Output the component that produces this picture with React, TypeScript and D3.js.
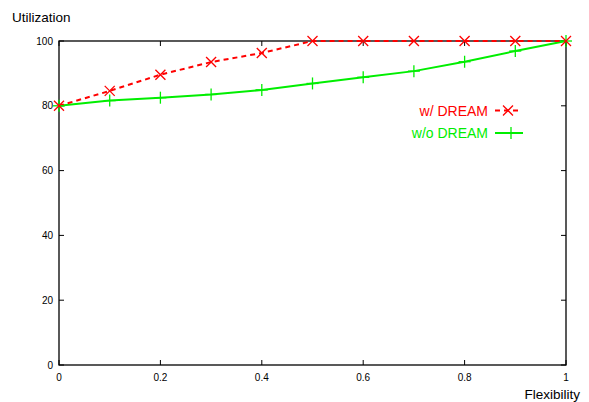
import React from "react";
import * as d3 from "d3";

const xValues = [0, 0.1, 0.2, 0.3, 0.4, 0.5, 0.6, 0.7, 0.8, 0.9, 1];
const withDream = [80, 84.6, 89.6, 93.5, 96.3, 100, 100, 100, 100, 100, 100];
const withoutDream = [80, 81.6, 82.5, 83.5, 84.9, 86.9, 88.8, 90.7, 93.6, 96.9, 100];
const xTicks = [0, 0.2, 0.4, 0.6, 0.8, 1];
const yTicks = [0, 20, 40, 60, 80, 100];

const W = 589, H = 402;
const L = 59, R = 566, T = 41, B = 365;
const FONT = "'Liberation Sans', Arial, Helvetica, sans-serif";

export default function App() {
  const x = d3.scaleLinear().domain([0, 1]).range([L, R]);
  const y = d3.scaleLinear().domain([0, 100]).range([B, T]);
  const line = d3.line<number>().x((_, i) => x(xValues[i])).y((d) => y(d));
  const red = "#ff0000";
  const green = "#00ee00";
  const tl = 5;
  const cross = (cx: number, cy: number, k: string, s = 5) => (
    <g key={k} stroke={red} strokeWidth={1.3}>
      <line x1={cx - s} y1={cy - s} x2={cx + s} y2={cy + s} />
      <line x1={cx - s} y1={cy + s} x2={cx + s} y2={cy - s} />
    </g>
  );
  const plus = (cx: number, cy: number, k: string, s = 6) => (
    <g key={k} stroke={green} strokeWidth={1.3}>
      <line x1={cx - s} y1={cy} x2={cx + s} y2={cy} />
      <line x1={cx} y1={cy - s} x2={cx} y2={cy + s} />
    </g>
  );
  return (
    <svg width={W} height={H} style={{ position: "absolute", left: 0, top: 0 }} fontFamily={FONT}>
      <rect width={W} height={H} fill="#fff" />
      <text x={12} y={22} fontSize={13.5} fill="#000">Utilization</text>
      <text x={580} y={399} fontSize={13.5} fill="#000" textAnchor="end">Flexibility</text>
      {yTicks.map((t) => (
        <g key={"y" + t}>
          <line x1={L} x2={L + tl} y1={y(t)} y2={y(t)} stroke="#000" />
          <line x1={R} x2={R - tl} y1={y(t)} y2={y(t)} stroke="#000" />
          <text x={L - 6} y={y(t) + 3.5} fontSize={10} textAnchor="end">{t}</text>
        </g>
      ))}
      {xTicks.map((t) => (
        <g key={"x" + t}>
          <line x1={x(t)} x2={x(t)} y1={B} y2={B - tl} stroke="#000" />
          <line x1={x(t)} x2={x(t)} y1={T} y2={T + tl} stroke="#000" />
          <text x={x(t)} y={B + 16} fontSize={10} textAnchor="middle">{t}</text>
        </g>
      ))}
      <rect x={L} y={T} width={R - L} height={B - T} fill="none" stroke="#000" strokeWidth={1.3} />
      <path d={line(withoutDream) || ""} fill="none" stroke={green} strokeWidth={2} />
      <path d={line(withDream) || ""} fill="none" stroke={red} strokeWidth={2} strokeDasharray="5,4" />
      {withoutDream.map((v, i) => plus(x(xValues[i]), y(v), "p" + i))}
      {withDream.map((v, i) => cross(x(xValues[i]), y(v), "c" + i))}
      <text x={488} y={115.5} fontSize={14} fill={red} textAnchor="end">w/ DREAM</text>
      <line x1={495} x2={520} y1={110.5} y2={110.5} stroke={red} strokeWidth={2} strokeDasharray="5,4" />
      {cross(508, 110.5, "lc")}
      <text x={488} y={138} fontSize={14} fill={green} textAnchor="end">w/o DREAM</text>
      <line x1={495} x2={523} y1={133} y2={133} stroke={green} strokeWidth={2} />
      {plus(511, 133, "lp")}
    </svg>
  );
}
